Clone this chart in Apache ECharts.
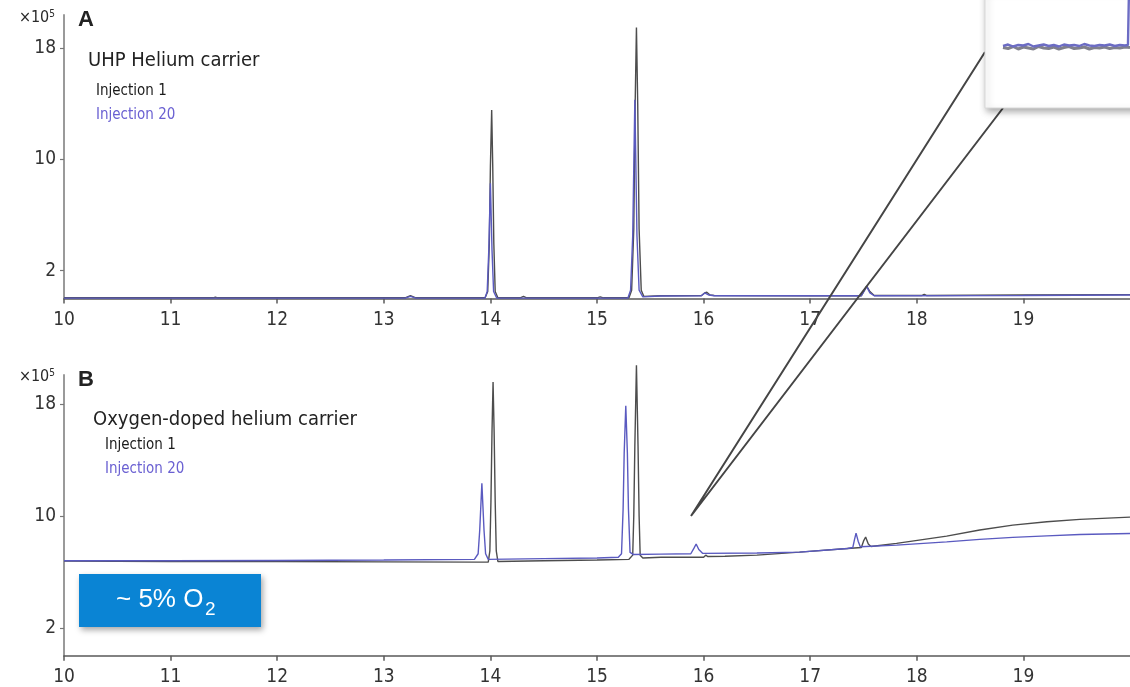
<!DOCTYPE html>
<html>
<head>
<meta charset="utf-8">
<script src="https://cdn.jsdelivr.net/npm/echarts@6/dist/echarts.min.js"></script>
<style>
html,body{margin:0;padding:0;background:#fff;}
#chart{width:1130px;height:687px;}
</style>
</head>
<body>
<div id="chart"></div>
<script>
// ---------- DATA ----------
const xTickValues = [10, 11, 12, 13, 14, 15, 16, 17, 18, 19];
const yTickValues = [2, 10, 18];

// Panel A: UHP Helium carrier (time min, abundance x10^5)
const panelA_inj1 = [[10,0.05],[11.4,0.05],[11.42,0.1],[11.44,0.05],[12.0,0.05],[13.2,0.05],[13.25,0.2],[13.3,0.05],[13.95,0.05],[13.975,0.5],[13.99,4.0],[14.0,9.5],[14.012,13.56],[14.022,9.5],[14.032,4.0],[14.045,0.5],[14.07,0.05],[14.28,0.05],[14.31,0.15],[14.34,0.05],[15.0,0.05],[15.03,0.12],[15.06,0.05],[15.30,0.05],[15.325,0.6],[15.345,5.0],[15.358,14.0],[15.37,19.5],[15.382,14.0],[15.395,5.0],[15.415,0.6],[15.44,0.15],[15.6,0.2],[15.98,0.22],[16.01,0.4],[16.03,0.45],[16.06,0.25],[16.1,0.22],[17.0,0.2],[17.48,0.2],[17.51,0.6],[17.53,0.9],[17.56,0.5],[17.6,0.22],[18.05,0.22],[18.07,0.3],[18.09,0.22],[19.0,0.25],[20,0.28]];
const panelA_inj20 = [[10,0.03],[13.2,0.03],[13.25,0.15],[13.3,0.03],[13.95,0.03],[13.97,0.5],[13.985,3.5],[14.0,8.3],[14.015,3.5],[14.03,0.5],[14.06,0.03],[15.29,0.03],[15.315,0.6],[15.335,4.5],[15.355,14.3],[15.375,4.5],[15.395,0.6],[15.43,0.12],[15.6,0.18],[15.98,0.2],[16.01,0.4],[16.025,0.5],[16.05,0.25],[16.1,0.2],[17.48,0.2],[17.51,0.6],[17.53,0.85],[17.56,0.4],[17.6,0.2],[19,0.22],[20,0.25]];

// Panel B: Oxygen-doped helium carrier
const panelB_inj1 = [[10,6.78],[11,6.75],[12,6.74],[13,6.72],[13.9,6.7],[13.98,6.7],[13.995,7.5],[14.005,11],[14.015,16],[14.025,19.6],[14.035,16],[14.045,11],[14.055,7.5],[14.07,6.75],[14.5,6.8],[15.0,6.85],[15.3,6.9],[15.335,7.2],[15.345,10],[15.355,15],[15.37,20.8],[15.385,15],[15.395,10],[15.405,7.2],[15.43,7.0],[15.6,7.05],[16.0,7.05],[16.02,7.2],[16.04,7.1],[16.2,7.12],[16.5,7.2],[16.9,7.42],[17.35,7.68],[17.48,7.75],[17.5,8.2],[17.52,8.5],[17.545,8.0],[17.57,7.82],[17.81,8.04],[18.28,8.56],[18.59,9.0],[18.9,9.35],[19.22,9.59],[19.53,9.76],[20,9.92]];
const panelB_inj20 = [[10,6.8],[11,6.8],[12,6.82],[13,6.85],[13.85,6.9],[13.885,7.3],[13.9,9],[13.92,12.35],[13.94,9],[13.955,7.3],[13.98,6.9],[14.5,6.95],[15.0,7.0],[15.2,7.05],[15.23,7.3],[15.245,10.5],[15.255,14.5],[15.27,17.9],[15.285,14.5],[15.295,10.5],[15.31,7.4],[15.34,7.25],[15.6,7.27],[15.88,7.3],[15.91,7.7],[15.93,8.0],[15.955,7.6],[15.99,7.33],[16.5,7.35],[16.9,7.42],[17.35,7.68],[17.4,7.75],[17.415,8.3],[17.43,8.78],[17.45,8.2],[17.47,7.8],[17.81,7.92],[18.28,8.15],[18.59,8.33],[18.9,8.47],[19.22,8.58],[19.53,8.68],[20,8.75]];

// Zoomed inset (arbitrary zoomed units)
const inset_inj20 = [[0,2.8],[1,3.1],[2,2.7],[3,3.0],[4,2.9],[5,3.2],[6,2.7],[7,2.9],[8,3.1],[9,2.8],[10,3.0],[11,2.7],[12,3.1],[13,2.9],[14,3.0],[15,2.8],[16,3.2],[17,2.9],[18,2.8],[19,3.0],[20,2.9],[21,3.1],[22,2.8],[23,3.0],[24,2.9],[24.6,3.0],[24.8,14]];
const inset_inj1 = [[0,2.5],[1,2.3],[2,2.7],[3,2.2],[4,2.6],[5,2.4],[6,2.2],[7,2.7],[8,2.4],[9,2.3],[10,2.6],[11,2.2],[12,2.5],[13,2.7],[14,2.3],[15,2.4],[16,2.6],[17,2.2],[18,2.5],[19,2.4],[20,2.6],[21,2.3],[22,2.5],[23,2.4],[24,2.6],[25,2.5]];

// ---------- STYLE ----------
const NARROW = "'Liberation Sans Narrow','DejaVu Sans Condensed','Roboto Condensed',sans-serif";
const SANS = "'Liberation Sans',Arial,sans-serif";
const BLACK = '#4d4d4d';
const BLUE = '#5a5ac0';
const LEGEND_BLUE = '#6a60d2';

function xAxisFor(gi) {
  return {
    type: 'value', gridIndex: gi, min: 10, max: 20, interval: 1,
    axisLine: { show: true, lineStyle: { color: '#5a5a5a', width: 1.5 } },
    axisTick: { show: true, length: 5, lineStyle: { color: '#5a5a5a', width: 1.5 }, customValues: xTickValues },
    axisLabel: { customValues: xTickValues, color: '#333333', fontSize: 19, fontFamily: NARROW, margin: 12 },
    splitLine: { show: false }
  };
}
function yAxisFor(gi, max) {
  return {
    type: 'value', gridIndex: gi, min: 0, max: max,
    axisLine: { show: true, lineStyle: { color: '#9a9a9a', width: 2 } },
    axisTick: { show: true, length: 4, lineStyle: { color: '#777', width: 1.2 }, customValues: yTickValues },
    axisLabel: { customValues: yTickValues, color: '#333333', fontSize: 19, fontFamily: NARROW, margin: 8 },
    splitLine: { show: false }
  };
}
function lineSeries(data, color, xi, z, clip, width) {
  return {
    type: 'line', data: data, xAxisIndex: xi, yAxisIndex: xi,
    showSymbol: false, symbol: 'none', clip: clip, z: z, silent: true,
    lineStyle: { color: color, width: width || 1.4 }
  };
}

const chart = echarts.init(document.getElementById('chart'), null, { renderer: 'canvas' });

function txt(x, y, text, size, color, extra) {
  return {
    type: 'text', x: x, y: y, z: 50,
    style: Object.assign({ text: text, fontSize: size, fill: color, fontFamily: NARROW, verticalAlign: 'middle' }, extra || {})
  };
}
function expLabel(y) {
  return {
    type: 'text', x: 55, y: y, z: 50,
    style: {
      text: '{a|×10}{b|5}', align: 'right', verticalAlign: 'middle',
      rich: {
        a: { fontSize: 16, fontFamily: NARROW, fill: '#2a2a2a', color: '#2a2a2a' },
        b: { fontSize: 10, fontFamily: NARROW, fill: '#2a2a2a', color: '#2a2a2a', verticalAlign: 'top', padding: [0, 0, 8, 0] }
      }
    }
  };
}

const option = {
  backgroundColor: '#ffffff',
  animation: false,
  grid: [
    { left: 64, right: 0, top: 15, height: 283.5 },
    { left: 64, right: 0, top: 375, height: 280.7 },
    { left: 1003, width: 127, top: 0, height: 60 }
  ],
  xAxis: [
    xAxisFor(0),
    xAxisFor(1),
    { type: 'value', gridIndex: 2, min: 0, max: 25, show: false }
  ],
  yAxis: [
    yAxisFor(0, 20.4),
    yAxisFor(1, 20.1),
    { type: 'value', gridIndex: 2, min: 0, max: 12, show: false }
  ],
  series: [
    lineSeries(panelA_inj1, BLACK, 0, 2, false),
    lineSeries(panelA_inj20, BLUE, 0, 3, false),
    lineSeries(panelB_inj1, BLACK, 1, 2, false),
    lineSeries(panelB_inj20, BLUE, 1, 3, false),
    lineSeries(inset_inj1, '#80808c', 2, 200, true, 3),
    lineSeries(inset_inj20, '#6c6cc4', 2, 201, true, 2.4)
  ],
  graphic: [
    // panel A labels
    expLabel(18),
    txt(78, 20, 'A', 22, '#222', { fontWeight: 'bold', fontFamily: SANS }),
    txt(88, 61, 'UHP Helium carrier', 20, '#222'),
    txt(96, 91, 'Injection 1', 15, '#1a1a1a'),
    txt(96, 115, 'Injection 20', 15, LEGEND_BLUE),
    // panel B labels
    expLabel(377),
    txt(78, 380, 'B', 22, '#222', { fontWeight: 'bold', fontFamily: SANS }),
    txt(93, 420, 'Oxygen-doped helium carrier', 20, '#222'),
    txt(105, 445, 'Injection 1', 15, '#1a1a1a'),
    txt(105, 469, 'Injection 20', 15, LEGEND_BLUE),
    // callout lines
    {
      type: 'polyline', z: 120,
      shape: { points: [[985, 52], [691, 516], [1003, 108]] },
      style: { stroke: '#454545', lineWidth: 2, fill: null }
    },
    // inset box
    {
      type: 'rect', z: 150,
      shape: { x: 985, y: -10, width: 170, height: 118 },
      style: { fill: '#ffffff', stroke: '#d8d8d8', lineWidth: 1, shadowBlur: 7, shadowOffsetX: 2, shadowOffsetY: 3, shadowColor: 'rgba(0,0,0,0.35)' }
    },
    // ~5% O2 box
    {
      type: 'rect', z: 100,
      shape: { x: 79, y: 574, width: 182, height: 53 },
      style: { fill: '#0a84d4', shadowBlur: 6, shadowOffsetX: 2, shadowOffsetY: 3, shadowColor: 'rgba(0,0,0,0.35)' }
    },
    {
      type: 'text', z: 101, x: 116, y: 600,
      style: { text: '~ 5% O', fontSize: 26, fill: '#ffffff', fontFamily: SANS, verticalAlign: 'middle' }
    },
    {
      type: 'text', z: 101, x: 205, y: 610,
      style: { text: '2', fontSize: 19, fill: '#ffffff', fontFamily: SANS, verticalAlign: 'middle' }
    }
  ]
};
chart.setOption(option);
</script>
</body>
</html>
